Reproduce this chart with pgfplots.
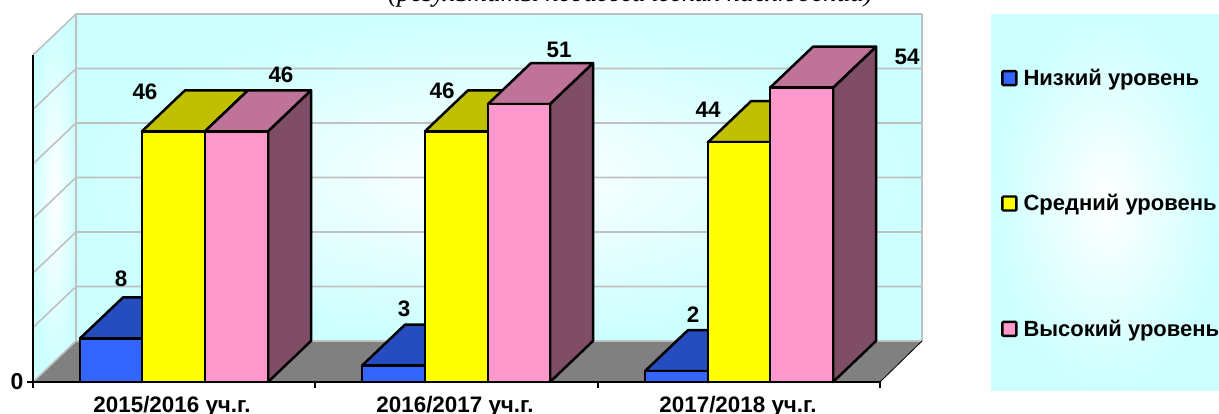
\documentclass[border=0pt]{standalone}
\usepackage{pgfplots}
\pgfplotsset{compat=1.18}
\usepackage{fontspec}
\setmainfont{Liberation Sans}
\newfontfamily\titlefont{Liberation Serif}
\definecolor{wallc}{HTML}{CCFFFF}
\definecolor{gridc}{HTML}{C0C0C0}
\definecolor{floorc}{HTML}{808080}
\definecolor{bf}{HTML}{3366FF}
\definecolor{bt}{HTML}{264DBF}
\definecolor{bs}{HTML}{1A3380}
\definecolor{yf}{HTML}{FFFF00}
\definecolor{yt}{HTML}{C0C000}
\definecolor{ys}{HTML}{808000}
\definecolor{pf}{HTML}{FF99CC}
\definecolor{pt}{HTML}{BF7399}
\definecolor{ps}{HTML}{804D66}
% one 3-D bar: x left, x right, value, three colours
\newcommand{\barthree}[6]{%
  \pgfmathsetmacro\xa{#1+43}\pgfmathsetmacro\xb{#2+43}\pgfmathsetmacro\vb{#3+7.52}%
  \addplot[forget plot,draw=black,line width=2.5pt,line join=round,fill=#6] coordinates {(#2,0)(\xb,7.52)(\xb,\vb)(#2,#3)} --cycle;
  \addplot[forget plot,draw=black,line width=2.5pt,line join=round,fill=#5] coordinates {(#1,#3)(#2,#3)(\xb,\vb)(\xa,\vb)} --cycle;
  \addplot[forget plot,draw=black,line width=2.5pt,line join=round,fill=#4] coordinates {(#1,0)(#2,0)(#2,#3)(#1,#3)} --cycle;
}
\newcommand{\gridv}[1]{%
  \pgfmathsetmacro\vb{#1+7.52}%
  \addplot[forget plot,draw=gridc,line width=1.6pt] coordinates {(33,#1)(76,\vb)(922,\vb)};
}
\begin{document}
\begin{tikzpicture}[x=1pt,y=1pt]
\path[use as bounding box,clip] (0,0) rectangle (1219,414);
\fill[white] (0,0) rectangle (1219,414);
\begin{axis}[
  at={(33pt,32pt)},anchor=south west,
  scale only axis,width=847pt,height=327pt,
  xmin=33,xmax=880,ymin=0,ymax=60,
  clip=false,axis on top,
  axis x line*=bottom,axis y line*=left,
  axis line style={black,line width=2.8pt,-},
  xtick={33,315,598,880},
  xticklabels={},
  extra x ticks={172,455,738},
  extra x tick labels={2015/2016 уч.г.,2016/2017 уч.г.,2017/2018 уч.г.},
  extra x tick style={major tick length=0pt,
    xticklabel style={font=\bfseries\fontsize{22.4}{23}\selectfont,yshift=-11pt}},
  ytick={0},
  yticklabel style={font=\bfseries\fontsize{23}{23}\selectfont,xshift=0pt},
  tick style={black,line width=1.5pt},
  major tick length=6pt,tick align=outside,
  /pgf/number format/assume math mode=true,
  legend cell align=left,
  legend style={at={(1.1429,0.9633)},anchor=north west,draw=none,fill=none,
    row sep=103.5pt,font=\bfseries\fontsize{22}{23}\selectfont,
    inner sep=0pt,column sep=4pt},
  legend image code/.code={\draw[#1] (0pt,-7pt) rectangle (14pt,7pt);},
]
% back wall, side wall, floor, legend panel
\path[shade,inner color=white,outer color=wallc] (axis cs:76,7.52) rectangle (axis cs:922,67.52);
\path[shade,inner color=white,outer color=wallc] (axis cs:33,0) -- (axis cs:76,7.52) -- (axis cs:76,67.52) -- (axis cs:33,60) -- cycle;
\fill[floorc] (axis cs:33,0) -- (axis cs:880,0) -- (axis cs:922,7.52) -- (axis cs:76,7.52) -- cycle;
\path[shade,inner color=white,outer color=wallc] (axis cs:991,-1.65) rectangle (axis cs:1223,67.52);
\gridv{0}\gridv{10}\gridv{20}\gridv{30}\gridv{40}\gridv{50}\gridv{60}
\addplot[forget plot,draw=gridc,line width=1.6pt] coordinates {(76,7.52)(76,67.52)};
\addplot[forget plot,draw=gridc,line width=1.6pt] coordinates {(922,7.52)(922,67.52)};
\addplot[forget plot,draw=black,line width=.8pt] coordinates {(880,0)(922,7.52)};
% group 1
\barthree{80}{142}{8}{bf}{bt}{bs}
\barthree{142}{205}{46}{yf}{yt}{ys}
\barthree{205}{268}{46}{pf}{pt}{ps}
% group 2
\barthree{362}{425}{3}{bf}{bt}{bs}
\barthree{425}{488}{46}{yf}{yt}{ys}
\barthree{488}{550}{51}{pf}{pt}{ps}
% group 3
\barthree{645}{708}{2}{bf}{bt}{bs}
\barthree{708}{770}{44}{yf}{yt}{ys}
\barthree{770}{833}{54}{pf}{pt}{ps}
\addlegendimage{draw=black,line width=2.3pt,fill=bf,rounded corners=1pt}\addlegendentry{Низкий уровень}
\addlegendimage{draw=black,line width=2.3pt,fill=yf,rounded corners=1pt}\addlegendentry{Средний уровень}
\addlegendimage{draw=black,line width=2.3pt,fill=pf,rounded corners=1pt}\addlegendentry{Высокий уровень}
% data labels
\addplot[forget plot,only marks,mark=none,nodes near coords,point meta=explicit symbolic,
  every node near coord/.style={font=\bfseries\fontsize{22.4}{23}\selectfont,anchor=center,text=black}]
  coordinates {(121,19.0)[8](145,53.2)[46](281,56.4)[46](404,13.5)[3](442,53.4)[46](559,61.0)[51](693,12.4)[2](708,49.9)[44](907,59.6)[54]};
\end{axis}
\node[font=\titlefont\itshape\fontsize{27}{27}\selectfont,anchor=base west,inner sep=0pt] at (388,412.5) {(результаты педагогических наблюдений)};
\end{tikzpicture}
\end{document}
